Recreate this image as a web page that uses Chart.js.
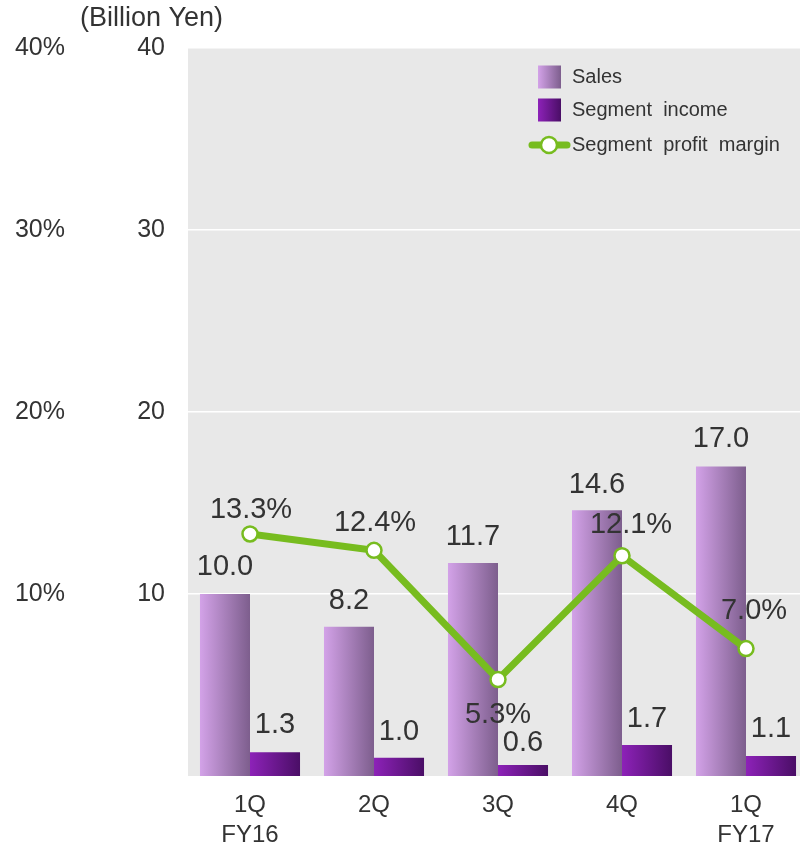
<!DOCTYPE html>
<html>
<head>
<meta charset="utf-8">
<script src="https://cdn.jsdelivr.net/npm/chart.js@4/dist/chart.umd.min.js"></script>
<style>
  html, body { margin: 0; padding: 0; background: #fff; overflow: hidden; }
  #wrap { width: 818px; height: 847px; }
</style>
</head>
<body>
<div id="wrap"><canvas id="chartSegment" width="818" height="847"></canvas></div>
<script>
// Quarterly segment results: sales / income in billion yen, margin in %
const quarters = [['1Q', 'FY16'], '2Q', '3Q', '4Q', ['1Q', 'FY17']];
const sales = [10.0, 8.2, 11.7, 14.6, 17.0];
const segmentIncome = [1.3, 1.0, 0.6, 1.7, 1.1];
const profitMargin = [13.3, 12.4, 5.3, 12.1, 7.0];
const yenTicks = [10, 20, 30, 40];
const pctTicks = [10, 20, 30, 40];

// label nudges (dx, dy from the top of the mark)
const salesLabelOffset = [[0, -27], [0, -26], [0, -26], [0, -25], [0, -28]];
const incomeLabelOffset = [[0, -27], [0, -26], [0, -22], [0, -26], [0, -27]];
const marginLabelOffset = [[1, -24], [1, -27], [0, 35], [9, -31], [8, -38]];

const txt = '#333333';
const font = '"Liberation Sans", Arial, sans-serif';
const green = '#77bc1f';

const gradients = {
    sales: ['#d3a2e8', '#7d5e8d'],
    income: ['#8d22b8', '#4a0e66'],
};

// paint the plot background grey before anything else
const plotBackground = {
    id: 'plotBackground',
    beforeDraw(chart) {
        const { ctx, chartArea: a } = chart;
        ctx.save();
        ctx.fillStyle = '#e8e8e8';
        ctx.fillRect(a.left, a.top, a.right - a.left, a.bottom - a.top);
        ctx.restore();
    }
};

// horizontal gradient on every bar
const barGradient = {
    id: 'barGradient',
    beforeDatasetsDraw(chart) {
        const { ctx } = chart;
        chart.data.datasets.forEach((ds, i) => {
            if (!ds.gradient) return;
            chart.getDatasetMeta(i).data.forEach(el => {
                const { x, width } = el.getProps(['x', 'width'], true);
                const g = ctx.createLinearGradient(x - width / 2, 0, x + width / 2, 0);
                g.addColorStop(0, ds.gradient[0]);
                g.addColorStop(1, ds.gradient[1]);
                el.options = Object.assign({}, el.options, { backgroundColor: g });
            });
        });
    }
};

// value labels, unit title and the legend box
const annotations = {
    id: 'annotations',
    afterDatasetsDraw(chart) {
        const { ctx } = chart;
        ctx.save();
        ctx.fillStyle = txt;
        ctx.font = `29px ${font}`;
        ctx.textAlign = 'center';
        ctx.textBaseline = 'middle';
        const put = (dsIndex, values, offs, fmt) => {
            chart.getDatasetMeta(dsIndex).data.forEach((el, j) => {
                const { x, y } = el.getProps(['x', 'y'], true);
                ctx.fillText(fmt(values[j]), x + offs[j][0], y + offs[j][1]);
            });
        };
        put(1, sales, salesLabelOffset, v => v.toFixed(1));
        put(2, segmentIncome, incomeLabelOffset, v => v.toFixed(1));
        put(0, profitMargin, marginLabelOffset, v => v.toFixed(1) + '%');
        ctx.restore();
    },
    afterDraw(chart) {
        const { ctx } = chart;
        ctx.save();
        ctx.fillStyle = txt;
        ctx.textBaseline = 'middle';
        ctx.font = `27px ${font}`;
        ctx.textAlign = 'left';
        ctx.fillText('(Billion Yen)', 80, 19);

        // legend
        const boxes = [[gradients.sales, 'Sales', 77], [gradients.income, 'Segment  income', 110]];
        ctx.font = `20px ${font}`;
        boxes.forEach(([c, label, cy]) => {
            const g = ctx.createLinearGradient(538, 0, 561, 0);
            g.addColorStop(0, c[0]);
            g.addColorStop(1, c[1]);
            ctx.fillStyle = g;
            ctx.fillRect(538, cy - 11.5, 23, 23);
            ctx.fillStyle = txt;
            ctx.fillText(label, 572, cy);
        });
        ctx.strokeStyle = green;
        ctx.lineWidth = 7;
        ctx.lineCap = 'round';
        ctx.beginPath();
        ctx.moveTo(532, 145);
        ctx.lineTo(567, 145);
        ctx.stroke();
        ctx.beginPath();
        ctx.arc(549, 145, 8, 0, Math.PI * 2);
        ctx.fillStyle = '#fff';
        ctx.fill();
        ctx.lineWidth = 2.5;
        ctx.stroke();
        ctx.fillStyle = txt;
        ctx.fillText('Segment  profit  margin', 572, 145);
        ctx.restore();
    }
};

new Chart(document.getElementById('chartSegment'), {
    data: {
        labels: quarters,
        datasets: [
            {
                type: 'line',
                label: 'Segment profit margin',
                data: profitMargin,
                yAxisID: 'yPct',
                borderColor: green,
                borderWidth: 7,
                pointRadius: 7.5,
                pointBorderWidth: 2.5,
                pointBackgroundColor: '#fff',
                pointBorderColor: green,
                tension: 0,
                order: 0,
            },
            {
                type: 'bar',
                label: 'Sales',
                data: sales,
                yAxisID: 'y',
                backgroundColor: gradients.sales[0],
                gradient: gradients.sales,
                categoryPercentage: 0.807,
                barPercentage: 1.0,
                order: 1,
            },
            {
                type: 'bar',
                label: 'Segment income',
                data: segmentIncome,
                yAxisID: 'y',
                backgroundColor: gradients.income[0],
                gradient: gradients.income,
                categoryPercentage: 0.807,
                barPercentage: 1.0,
                order: 1,
            }
        ]
    },
    options: {
        responsive: false,
        animation: false,
        devicePixelRatio: 1,
        layout: { padding: { top: 48, right: 0, left: 0, bottom: 0 } },
        plugins: { legend: { display: false }, tooltip: { enabled: false } },
        scales: {
            x: {
                grid: { display: false },
                border: { display: false },
                ticks: { color: txt, font: { family: font, size: 24, lineHeight: 1.25 }, padding: 6, maxRotation: 0 },
                afterFit(s) { s.height = 71; }
            },
            y: {
                position: 'left',
                weight: 0,
                min: 0, max: 40,
                afterBuildTicks(s) { s.ticks = yenTicks.map(v => ({ value: v })); },
                grid: { color: '#ffffff', lineWidth: 1.5, drawTicks: false },
                border: { display: false },
                ticks: { color: txt, font: { family: font, size: 25 }, padding: 23 },
                afterFit(s) { s.width = 108; }
            },
            yPct: {
                position: 'left',
                weight: 1,
                min: 0, max: 40,
                afterBuildTicks(s) { s.ticks = pctTicks.map(v => ({ value: v })); },
                grid: { display: false, drawTicks: false },
                border: { display: false },
                ticks: { color: txt, font: { family: font, size: 25 }, padding: 15, callback: v => v + '%' },
                afterFit(s) { s.width = 80; }
            }
        }
    },
    plugins: [plotBackground, barGradient, annotations]
});
</script>
</body>
</html>
